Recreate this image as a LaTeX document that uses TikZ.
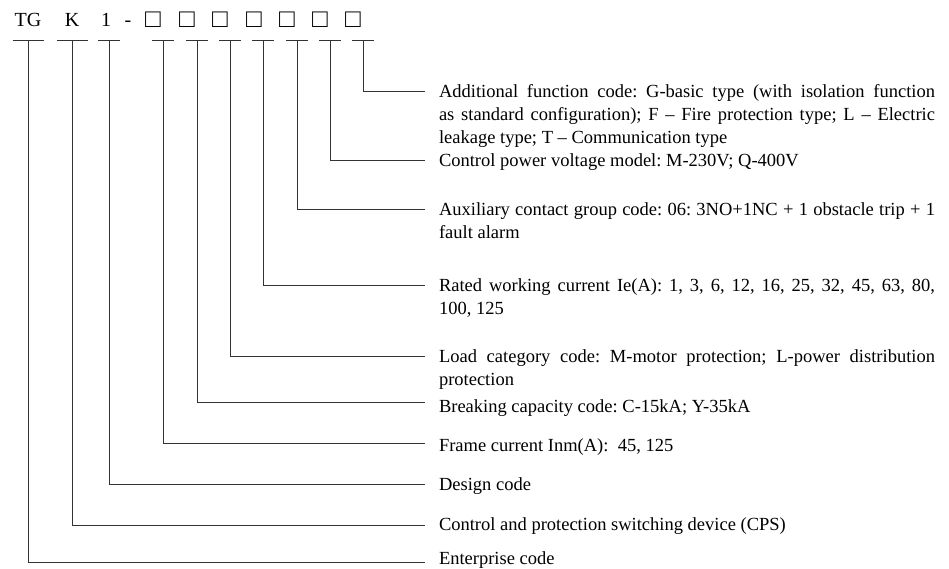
\documentclass[tikz,border=0pt]{standalone}
\usepackage{fontspec}
\setmainfont{Liberation Serif}
\usetikzlibrary{positioning}
\begin{document}
\frenchspacing
\begin{tikzpicture}[x=1pt,y=-1pt,every node/.style={inner sep=0pt,outer sep=0pt,font=\fontsize{18.5}{23}\selectfont},code/.style={anchor=base,font=\fontsize{20}{24}\selectfont},slot/.style={anchor=base,font=\fontsize{26}{30}\selectfont},desc/.style={anchor=base west,text width=496pt,align=justify},lead/.style={line width=0.8pt,draw=black!80}]
	\useasboundingbox (0,0) rectangle (949,568);
	
	\node[code] (tg) at (28,26.5) {TG};
	\node[code] (k) at (72,26.5) {K};
	\node[code] (one) at (106,26.5) {1};
	\node[code] (dash) at (128,26.5) {-};
	\node[slot] (b1) at (153,27) {□};
	\node[slot] (b2) at (187,27) {□};
	\node[slot] (b3) at (220,27) {□};
	\node[slot] (b4) at (254,27) {□};
	\node[slot] (b5) at (287,27) {□};
	\node[slot] (b6) at (320,27) {□};
	\node[slot] (b7) at (353,27) {□};
	
	\coordinate (ttg) at (28,40);
	\coordinate (tk) at (72.5,40);
	\coordinate (tone) at (109,40);
	\coordinate (tb1) at (163,40);
	\coordinate (tb2) at (197,40);
	\coordinate (tb3) at (230,40);
	\coordinate (tb4) at (263,40);
	\coordinate (tb5) at (297,40);
	\coordinate (tb6) at (330,40);
	\coordinate (tb7) at (363,40);
	
	\node[desc] (additional) at (439,97) {Additional function code: G-basic type (with isolation function\linebreak as standard configuration); F -- Fire protection type; L -- Electric\linebreak leakage type; T -- Communication type};
	\node[desc] (power) at (439,166) {Control power voltage model: M-230V; Q-400V};
	\node[desc] (auxiliary) at (439,215) {Auxiliary contact group code: 06: 3NO+1NC + 1 obstacle trip + 1\linebreak fault alarm};
	\node[desc] (rated) at (439,291) {Rated working current Ie(A): 1, 3, 6, 12, 16, 25, 32, 45, 63, 80,\linebreak 100, 125};
	\node[desc] (load) at (439,362) {Load category code: M-motor protection; L-power distribution\linebreak protection};
	\node[desc] (breaking) at (439,412) {Breaking capacity code: C-15kA; Y-35kA};
	\node[desc] (frame) at (439,451) {Frame current Inm(A):~ 45, 125};
	\node[desc] (design) at (439,490) {Design code};
	\node[desc] (cps) at (439,530) {Control and protection switching device (CPS)};
	\node[desc] (enterprise) at (439,564) {Enterprise code};
	
	\coordinate (eadditional) at (425,91);
	\coordinate (epower) at (425,160);
	\coordinate (eauxiliary) at (425,209);
	\coordinate (erated) at (425,285);
	\coordinate (eload) at (425,356);
	\coordinate (ebreaking) at (425,402);
	\coordinate (eframe) at (425,443);
	\coordinate (edesign) at (425,484);
	\coordinate (ecps) at (425,525);
	\coordinate (eenterprise) at (425,562);
	
	\draw[lead] ([xshift=-15.5pt]ttg) -- ([xshift=15.5pt]ttg);
	\draw[lead] ([xshift=-15.5pt]tk) -- ([xshift=15.5pt]tk);
	\draw[lead] ([xshift=-11pt]tone) -- ([xshift=11pt]tone);
	\draw[lead] ([xshift=-11pt]tb1) -- ([xshift=11pt]tb1);
	\draw[lead] ([xshift=-11pt]tb2) -- ([xshift=11pt]tb2);
	\draw[lead] ([xshift=-11pt]tb3) -- ([xshift=11pt]tb3);
	\draw[lead] ([xshift=-11pt]tb4) -- ([xshift=11pt]tb4);
	\draw[lead] ([xshift=-11pt]tb5) -- ([xshift=11pt]tb5);
	\draw[lead] ([xshift=-11pt]tb6) -- ([xshift=11pt]tb6);
	\draw[lead] ([xshift=-11pt]tb7) -- ([xshift=11pt]tb7);
	
	\draw[lead] (ttg) |- (eenterprise);
	\draw[lead] (tk) |- (ecps);
	\draw[lead] (tone) |- (edesign);
	\draw[lead] (tb1) |- (eframe);
	\draw[lead] (tb2) |- (ebreaking);
	\draw[lead] (tb3) |- (eload);
	\draw[lead] (tb4) |- (erated);
	\draw[lead] (tb5) |- (eauxiliary);
	\draw[lead] (tb6) |- (epower);
	\draw[lead] (tb7) |- (eadditional);
\end{tikzpicture}
\end{document}
